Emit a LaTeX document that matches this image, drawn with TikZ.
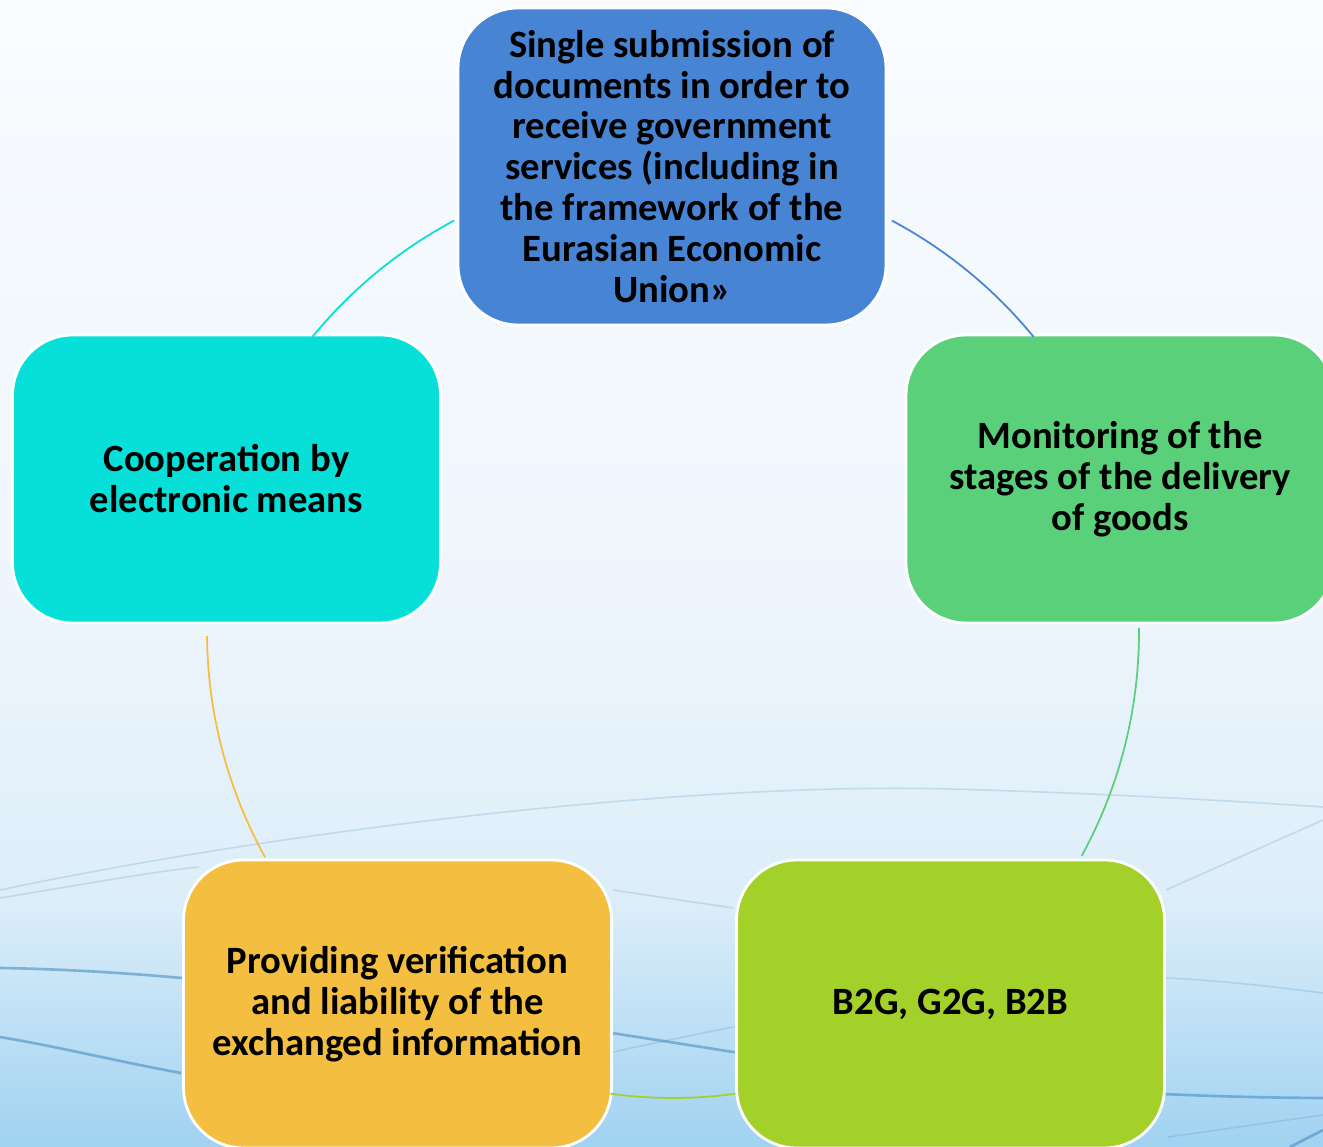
\documentclass[tikz,border=0pt]{standalone}
\usepackage{fontspec}
\setmainfont{Carlito}
\usepackage{tikz}

\definecolor{bgtop}{HTML}{F9FCFF}
\definecolor{bgmid}{HTML}{EEF5FC}
\definecolor{bglow}{HTML}{DDEEF9}
\definecolor{bgbot}{HTML}{A0D2F1}
\definecolor{wavec}{HTML}{4A8FC0}
\definecolor{blueA}{HTML}{4884D4}
\definecolor{greenA}{HTML}{5BD07A}
\definecolor{limeA}{HTML}{A4D02A}
\definecolor{orangeA}{HTML}{F4BF40}
\definecolor{cyanA}{HTML}{06E0D8}

\begin{document}
\begin{tikzpicture}[x=0.02cm,y=0.02cm]
    \tikzset{box/.style={draw=white,line width=1.6pt,rounded corners=1.2cm,minimum width=8.56cm,minimum height=5.76cm,align=center,text=black,font=\bfseries\fontsize{22}{23.3}\selectfont}}
    \tikzset{link/.style={line width=1pt}}
    \tikzset{wave/.style={draw=wavec,line width=0.9pt,opacity=.22}}
    \tikzset{darkwave/.style={draw=wavec,line width=1.5pt,opacity=.6}}
    \useasboundingbox (0,0) rectangle (1323,1147);
    % backdrop
    \shade[top color=bglow,bottom color=bgbot] (0,0) rectangle (1323,250);
    \shade[top color=bgmid,bottom color=bglow] (0,250) rectangle (1323,550);
    \shade[top color=bgtop,bottom color=bgmid] (0,550) rectangle (1323,1147);
    \draw[wave] (0,257) .. controls (300,320) and (700,365) .. (949,358) .. controls (1100,354) and (1250,345) .. (1323,340);
    \draw[wave] (0,249) .. controls (80,262) and (150,275) .. (199,280);
    \draw[wave] (613,257) -- (733,239);
    \draw[wave] (1166,257) -- (1323,327);
    \draw[darkwave] (0,179) .. controls (200,176) and (450,140) .. (733,95) .. controls (900,70) and (1100,50) .. (1323,49);
    \draw[darkwave] (0,110) .. controls (60,100) and (120,85) .. (181,74);
    \draw[wave] (613,95) .. controls (750,125) and (1000,175) .. (1168,169) .. controls (1230,166) and (1290,158) .. (1323,154);
    \draw[wave] (1168,10) -- (1323,32);
    \draw[darkwave] (1290,0) -- (1323,17);

    \node[box,fill=blueA,minimum height=6.34cm] (single) at (672,980.5) {Single submission of\\documents in order to\\receive government\\services (including in\\the framework of the\\Eurasian Economic\\Union»};
    \node[box,fill=greenA] (monitor) at (1120,668) {Monitoring of the\\stages of the delivery\\of goods};
    \node[box,fill=limeA] (btog) at (950.5,143) {B2G, G2G, B2B};
    \node[box,fill=orangeA] (verify) at (397.5,143) {Providing verification\\and liability of the\\exchanged information};
    \node[box,fill=cyanA] (coop) at (226.5,668) {Cooperation by\\electronic means};

    % cycle arcs
    \coordinate (hub) at (673,515);
    \draw[link,blueA] (hub) ++(62:466) arc[start angle=62,end angle=39.3,radius=466];
    \draw[link,greenA] (hub) ++(0.5:466) arc[start angle=0.5,end angle=-28.7,radius=466];
    \draw[link,limeA] (hub) ++(-82.3:466) arc[start angle=-82.3,end angle=-97.7,radius=466];
    \draw[link,orangeA] (hub) ++(-151.1:466) arc[start angle=-151.1,end angle=-179.5,radius=466];
    \draw[link,cyanA] (hub) ++(140.7:466) arc[start angle=140.7,end angle=118,radius=466];
\end{tikzpicture}
\end{document}
